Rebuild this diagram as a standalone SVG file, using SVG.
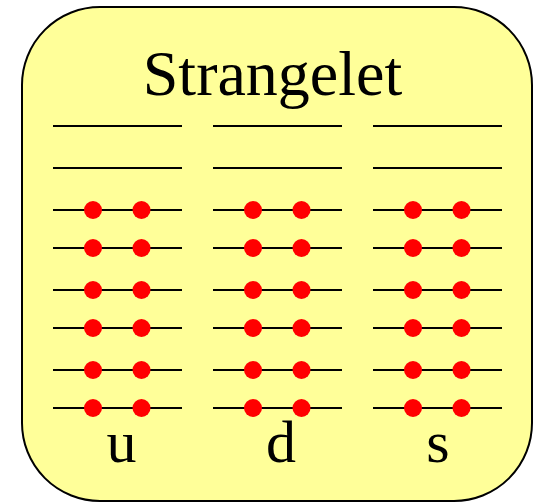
<svg xmlns="http://www.w3.org/2000/svg" width="537" height="503" viewBox="0 0 537 503">
<style>
.lv{stroke:#000;stroke-width:2.2;fill:none}
.q{fill:#ff0000}
.t{font-family:"Liberation Serif",serif;fill:#000;text-anchor:middle}
</style>
<defs>
<g id="empty"><line class="lv" x1="0" y1="0" x2="129" y2="0"/></g>
<g id="full"><line class="lv" x1="0" y1="0" x2="129" y2="0"/><circle class="q" cx="40" cy="0" r="9"/><circle class="q" cx="88.5" cy="0" r="9"/></g>
</defs>
<g id="box">
<rect x="22" y="7" width="510" height="494" rx="78" ry="78" fill="#ffff99" stroke="#000" stroke-width="2"/>
<text class="t" x="272.5" y="95" font-size="64">Strangelet</text>
</g>
<g id="u">
<use href="#empty" x="53" y="126"/>
<use href="#empty" x="53" y="168"/>
<use href="#full" x="53" y="210"/>
<use href="#full" x="53" y="248"/>
<use href="#full" x="53" y="290"/>
<use href="#full" x="53" y="328"/>
<use href="#full" x="53" y="370"/>
<use href="#full" x="53" y="408"/>
<text class="t" x="121.5" y="462" font-size="60">u</text>
</g>
<g id="d">
<use href="#empty" x="213" y="126"/>
<use href="#empty" x="213" y="168"/>
<use href="#full" x="213" y="210"/>
<use href="#full" x="213" y="248"/>
<use href="#full" x="213" y="290"/>
<use href="#full" x="213" y="328"/>
<use href="#full" x="213" y="370"/>
<use href="#full" x="213" y="408"/>
<text class="t" x="281" y="462" font-size="60">d</text>
</g>
<g id="s">
<use href="#empty" x="373" y="126"/>
<use href="#empty" x="373" y="168"/>
<use href="#full" x="373" y="210"/>
<use href="#full" x="373" y="248"/>
<use href="#full" x="373" y="290"/>
<use href="#full" x="373" y="328"/>
<use href="#full" x="373" y="370"/>
<use href="#full" x="373" y="408"/>
<text class="t" x="438" y="462" font-size="60">s</text>
</g>
<g id="connectors"/>
</svg>
